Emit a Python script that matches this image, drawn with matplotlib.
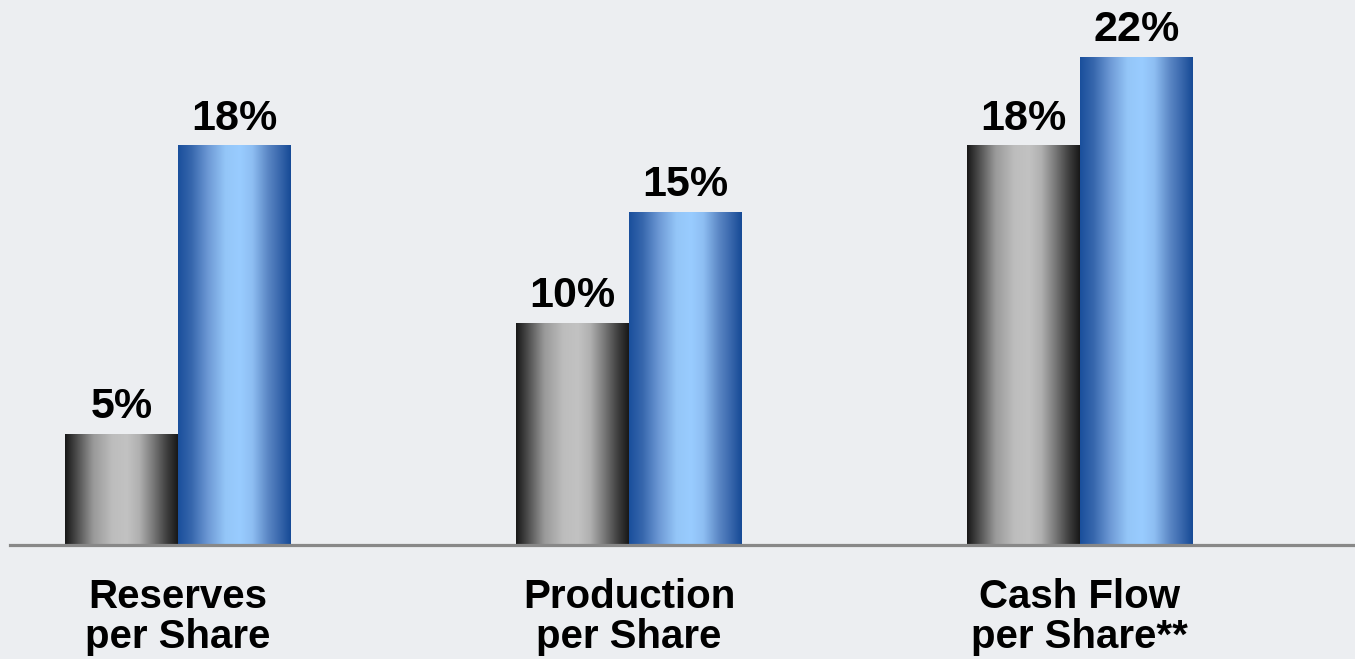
import matplotlib
matplotlib.use("Agg")
import matplotlib.pyplot as plt
import numpy as np
from matplotlib.colors import LinearSegmentedColormap

# datos
categorias = ["Reserves\nper Share", "Production\nper Share", "Cash Flow\nper Share**"]
serie_gris = [5, 10, 18]
serie_azul = [18, 15, 22]

fondo = "#eceef1"
cmap_gris = LinearSegmentedColormap.from_list(
    "gris", [(0, "#181818"), (0.12, "#555555"), (0.25, "#999999"), (0.42, "#bdbdbd"),
             (0.55, "#c2c2c2"), (0.66, "#b0b0b0"), (0.8, "#707070"), (0.9, "#404040"),
             (1, "#181818")])
cmap_azul = LinearSegmentedColormap.from_list(
    "azul", [(0, "#1a4f9c"), (0.12, "#3767ad"), (0.27, "#6e9ad6"), (0.42, "#94c6f8"),
             (0.55, "#99ccff"), (0.66, "#8ebef2"), (0.8, "#5a86c4"), (0.9, "#3a68ad"),
             (1, "#164a96")])

fig = plt.figure(figsize=(13.55, 6.59), dpi=100, facecolor=fondo)
ax = fig.add_axes([10 / 1355, 114 / 659, 1345 / 1355, 545 / 659])
ax.set_facecolor(fondo)

x = np.arange(len(categorias))
ancho = 0.25
barras_g = ax.bar(x - ancho / 2, serie_gris, ancho, color="none")
barras_a = ax.bar(x + ancho / 2, serie_azul, ancho, color="none")

# degradado horizontal dentro de cada barra
grad = np.linspace(0, 1, 256).reshape(1, -1)
for barras, cmap in [(barras_g, cmap_gris), (barras_a, cmap_azul)]:
    for b in barras:
        x0, w, h = b.get_x(), b.get_width(), b.get_height()
        ax.imshow(grad, cmap=cmap, aspect="auto", extent=[x0, x0 + w, 0, h],
                  interpolation="bicubic", zorder=2)
        ax.annotate(f"{h:g}%", (x0 + w / 2, h), xytext=(0, 5), textcoords="offset points",
                    ha="center", va="bottom", fontsize=31, fontweight="bold",
                    family="Liberation Sans", color="black")

ax.set_xlim(-0.3725, 2.61)
ax.set_ylim(0, 545 / 22.18)
for s in ["top", "right", "left"]:
    ax.spines[s].set_visible(False)
ax.spines["bottom"].set_color("#888888")
ax.spines["bottom"].set_linewidth(2.3)
ax.spines["bottom"].set_zorder(3)
ax.set_yticks([])
ax.set_xticks(x)
ax.set_xticklabels(categorias, fontsize=29, fontweight="bold", family="Liberation Sans",
                   linespacing=1.05)
ax.tick_params(axis="x", length=0, pad=24)

plt.savefig("out.png", dpi=100, facecolor=fondo)
